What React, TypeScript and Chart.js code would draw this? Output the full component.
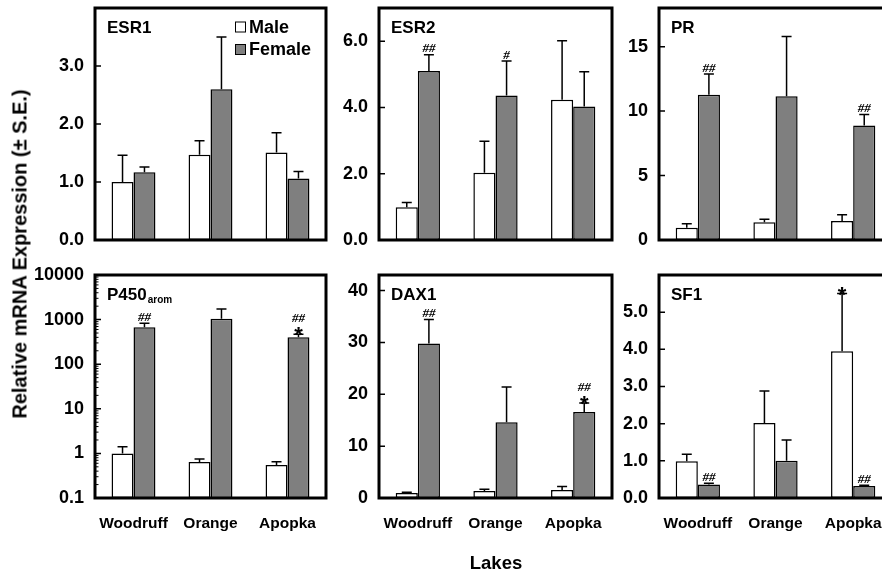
import React, { useEffect, useRef } from 'react';
import { Chart, registerables } from 'chart.js';

Chart.register(...registerables);

const FONT = '"Liberation Sans", Arial, Helvetica, sans-serif';
Chart.defaults.font.family = FONT;

// ---------- data ----------
const lakes = ['Woodruff', 'Orange', 'Apopka'];

const esr1Male = [1.0, 1.47, 1.51];
const esr1MaleSE = [0.46, 0.24, 0.34];
const esr1Female = [1.17, 2.6, 1.06];
const esr1FemaleSE = [0.09, 0.9, 0.12];
const esr1Ticks = [0, 1, 2, 3];

const esr2Male = [0.99, 2.03, 4.23];
const esr2MaleSE = [0.14, 0.95, 1.78];
const esr2Female = [5.1, 4.36, 4.03];
const esr2FemaleSE = [0.49, 1.04, 1.05];
const esr2FemaleHash = ['##', '#', ''];
const esr2Ticks = [0, 2, 4, 6];

const prMale = [0.96, 1.38, 1.48];
const prMaleSE = [0.31, 0.23, 0.47];
const prFemale = [11.27, 11.16, 8.88];
const prFemaleSE = [1.6, 4.62, 0.85];
const prFemaleHash = ['##', '', '##'];
const prTicks = [0, 5, 10, 15];

const p450Male = [1.0, 0.64, 0.55];
const p450MaleSE = [0.41, 0.105, 0.1];
const p450Female = [677, 1040, 400];
const p450FemaleSE = [153, 680, 70];
const p450FemaleHash = ['##', '', '##'];
const p450FemaleStar = ['', '', '*'];
const p450Ticks = [0.1, 1, 10, 100, 1000, 10000];

const dax1Male = [0.95, 1.36, 1.55];
const dax1MaleSE = [0.15, 0.34, 0.65];
const dax1Female = [29.8, 14.6, 16.6];
const dax1FemaleSE = [4.6, 6.8, 1.7];
const dax1FemaleHash = ['##', '', '##'];
const dax1FemaleStar = ['', '', '*'];
const dax1Ticks = [0, 10, 20, 30, 40];

const sf1Male = [0.99, 2.02, 3.95];
const sf1MaleSE = [0.19, 0.86, 1.55];
const sf1MaleStar = ['', '', '*'];
const sf1Female = [0.36, 1.0, 0.32];
const sf1FemaleSE = [0.04, 0.56, 0.02];
const sf1FemaleHash = ['##', '', '##'];
const sf1Ticks = [0, 1, 2, 3, 4, 5];

// ---------- layout ----------
const COLS = [
  [95, 326],
  [379, 612],
  [659, 892],
];
const ROWS = [
  [8, 240],
  [275, 498],
];
const Y_W = 70;
const PAD_R = 10;
const PAD_T = 25;
const CANVAS_BOTTOM = [260, 545];

type PanelCfg = {
  title: string;
  sub?: string;
  row: number;
  col: number;
  male: number[];
  maleSE: number[];
  female: number[];
  femaleSE: number[];
  maleHash?: string[];
  maleStar?: string[];
  femaleHash?: string[];
  femaleStar?: string[];
  ticks: number[];
  min: number;
  max: number;
  log?: boolean;
  decimals: number;
  legend?: boolean;
};

const panels: PanelCfg[] = [
  { title: 'ESR1', row: 0, col: 0, male: esr1Male, maleSE: esr1MaleSE, female: esr1Female, femaleSE: esr1FemaleSE, ticks: esr1Ticks, min: 0, max: 4, decimals: 1, legend: true },
  { title: 'ESR2', row: 0, col: 1, male: esr2Male, maleSE: esr2MaleSE, female: esr2Female, femaleSE: esr2FemaleSE, femaleHash: esr2FemaleHash, ticks: esr2Ticks, min: 0, max: 7, decimals: 1 },
  { title: 'PR', row: 0, col: 2, male: prMale, maleSE: prMaleSE, female: prFemale, femaleSE: prFemaleSE, femaleHash: prFemaleHash, ticks: prTicks, min: 0, max: 18, decimals: 0 },
  { title: 'P450', sub: 'arom', row: 1, col: 0, male: p450Male, maleSE: p450MaleSE, female: p450Female, femaleSE: p450FemaleSE, femaleHash: p450FemaleHash, femaleStar: p450FemaleStar, ticks: p450Ticks, min: 0.1, max: 10000, log: true, decimals: -1 },
  { title: 'DAX1', row: 1, col: 1, male: dax1Male, maleSE: dax1MaleSE, female: dax1Female, femaleSE: dax1FemaleSE, femaleHash: dax1FemaleHash, femaleStar: dax1FemaleStar, ticks: dax1Ticks, min: 0, max: 43, decimals: 0 },
  { title: 'SF1', row: 1, col: 2, male: sf1Male, maleSE: sf1MaleSE, maleStar: sf1MaleStar, female: sf1Female, femaleSE: sf1FemaleSE, femaleHash: sf1FemaleHash, ticks: sf1Ticks, min: 0, max: 6, decimals: 1 },
];

const GRAY = '#7f7f7f';

function makePlugin(cfg: PanelCfg) {
  return {
    id: 'panelDecor_' + cfg.title,
    afterDatasetsDraw(chart: any) {
      const ctx: CanvasRenderingContext2D = chart.ctx;
      const y = chart.scales.y;
      const sets = [
        { vals: cfg.male, se: cfg.maleSE, hash: cfg.maleHash, star: cfg.maleStar },
        { vals: cfg.female, se: cfg.femaleSE, hash: cfg.femaleHash, star: cfg.femaleStar },
      ];
      ctx.save();
      sets.forEach((s, d) => {
        const meta = chart.getDatasetMeta(d);
        meta.data.forEach((bar: any, i: number) => {
          const x = bar.x;
          const cap = y.getPixelForValue(s.vals[i] + s.se[i]);
          ctx.strokeStyle = '#000';
          ctx.lineWidth = 1.5;
          ctx.beginPath();
          ctx.moveTo(x, bar.y);
          ctx.lineTo(x, cap);
          ctx.moveTo(x - 5, cap);
          ctx.lineTo(x + 5, cap);
          ctx.stroke();
          ctx.fillStyle = '#000';
          ctx.textAlign = 'center';
          ctx.textBaseline = 'alphabetic';
          let hashCenter = cap - 7;
          if (s.star && s.star[i]) {
            ctx.font = 'bold 22px ' + FONT;
            ctx.fillText(s.star[i], x, cap + 8);
            hashCenter = cap - 17;
          }
          if (s.hash && s.hash[i]) {
            ctx.font = 'italic bold 13px "Liberation Serif", "Times New Roman", serif';
            ctx.fillText(s.hash[i], x, hashCenter + 4.5);
          }
        });
      });
      ctx.restore();
    },
    afterDraw(chart: any) {
      const ctx: CanvasRenderingContext2D = chart.ctx;
      const ca = chart.chartArea;
      const y = chart.scales.y;
      ctx.save();
      ctx.strokeStyle = '#000';
      // inward ticks
      ctx.lineWidth = 1.5;
      ctx.beginPath();
      cfg.ticks.forEach((v) => {
        const py = y.getPixelForValue(v);
        ctx.moveTo(ca.left, py);
        ctx.lineTo(ca.left + 6, py);
      });
      ctx.stroke();
      if (cfg.log) {
        ctx.lineWidth = 1;
        ctx.beginPath();
        for (let e = -1; e < 4; e++) {
          for (let k = 2; k <= 9; k++) {
            const py = y.getPixelForValue(k * Math.pow(10, e));
            ctx.moveTo(ca.left, py);
            ctx.lineTo(ca.left + 3.5, py);
          }
        }
        ctx.stroke();
      }
      // frame
      ctx.lineWidth = 3;
      ctx.strokeRect(ca.left, ca.top, ca.right - ca.left, ca.bottom - ca.top);
      // title
      ctx.fillStyle = '#000';
      ctx.textAlign = 'left';
      ctx.textBaseline = 'middle';
      ctx.font = 'bold 17px ' + FONT;
      const tx = ca.left + 12;
      const ty = ca.top + 20;
      ctx.fillText(cfg.title, tx, ty);
      if (cfg.sub) {
        const w = ctx.measureText(cfg.title).width;
        ctx.font = 'bold 10px ' + FONT;
        ctx.fillText(cfg.sub, tx + w + 1, ty + 5);
      }
      // legend
      if (cfg.legend) {
        const lx = ca.left + 140;
        const rows = [
          { label: 'Male', fill: '#ffffff', cy: ca.top + 19 },
          { label: 'Female', fill: GRAY, cy: ca.top + 41.5 },
        ];
        rows.forEach((r) => {
          ctx.fillStyle = r.fill;
          ctx.fillRect(lx, r.cy - 5.5, 11, 11);
          ctx.lineWidth = 1;
          ctx.strokeStyle = '#000';
          ctx.strokeRect(lx + 0.5, r.cy - 5.5 + 0.5, 10, 10);
          ctx.fillStyle = '#000';
          ctx.font = 'bold 18px ' + FONT;
          ctx.textBaseline = 'middle';
          ctx.fillText(r.label, lx + 14, r.cy + 1);
        });
      }
      ctx.restore();
    },
  };
}

function fmt(cfg: PanelCfg, v: number): string {
  if (cfg.log) return String(v);
  return v.toFixed(cfg.decimals);
}

function Panel({ cfg }: { cfg: PanelCfg }) {
  const ref = useRef<HTMLCanvasElement | null>(null);
  const [bl, br] = COLS[cfg.col];
  const [bt, bb] = ROWS[cfg.row];
  const left = bl - Y_W;
  const top = bt - PAD_T;
  const width = br - bl + Y_W + PAD_R;
  const height = CANVAS_BOTTOM[cfg.row] - top;
  const xH = CANVAS_BOTTOM[cfg.row] - bb;

  useEffect(() => {
    if (!ref.current) return;
    const chart = new Chart(ref.current, {
      type: 'bar',
      data: {
        labels: lakes,
        datasets: [
          { label: 'Male', data: cfg.male, backgroundColor: '#ffffff', borderColor: '#000', borderWidth: 1.5, borderSkipped: false, categoryPercentage: 0.57, barPercentage: 1 },
          { label: 'Female', data: cfg.female, backgroundColor: GRAY, borderColor: '#000', borderWidth: 1.5, borderSkipped: false, categoryPercentage: 0.57, barPercentage: 1 },
        ],
      },
      options: {
        animation: false,
        responsive: false,
        maintainAspectRatio: false,
        layout: { padding: { top: PAD_T, right: PAD_R, left: 0, bottom: 0 } },
        plugins: { legend: { display: false }, tooltip: { enabled: false } },
        scales: {
          x: {
            type: 'category',
            offset: true,
            grid: { display: false },
            border: { display: false },
            ticks: {
              display: cfg.row === 1,
              color: '#000',
              font: { size: 15.5, weight: 'bold', family: FONT },
              padding: 8,
              maxRotation: 0,
              minRotation: 0,
              autoSkip: false,
            },
            afterFit: (s: any) => {
              s.height = xH;
            },
          },
          y: {
            type: cfg.log ? 'logarithmic' : 'linear',
            min: cfg.min,
            max: cfg.max,
            grid: { display: false },
            border: { display: false },
            ticks: {
              color: '#000',
              font: { size: 18, weight: 'bold', family: FONT },
              padding: 3,
              callback: (v: any) => fmt(cfg, Number(v)),
            },
            afterBuildTicks: (s: any) => {
              s.ticks = cfg.ticks.map((v) => ({ value: v }));
            },
            afterFit: (s: any) => {
              s.width = Y_W;
            },
          },
        },
      } as any,
      plugins: [makePlugin(cfg)],
    });
    return () => chart.destroy();
  }, []);

  return (
    <canvas
      ref={ref}
      width={width}
      height={height}
      style={{ position: 'absolute', left, top, width, height }}
    />
  );
}

export default function App() {
  return (
    <div
      style={{
        position: 'absolute',
        left: 0,
        top: 0,
        width: 882,
        height: 575,
        overflow: 'hidden',
        background: '#fff',
        fontFamily: FONT,
      }}
    >
      {panels.map((p) => (
        <Panel key={p.title} cfg={p} />
      ))}
      <div
        style={{
          position: 'absolute',
          left: 20,
          top: 254,
          transform: 'translate(-50%, -50%) rotate(-90deg)',
          whiteSpace: 'nowrap',
          fontWeight: 'bold',
          fontSize: 20,
          color: '#000',
        }}
      >
        Relative mRNA Expression (± S.E.)
      </div>
      <div
        style={{
          position: 'absolute',
          left: 496,
          top: 563,
          transform: 'translate(-50%, -50%)',
          whiteSpace: 'nowrap',
          fontWeight: 'bold',
          fontSize: 18.5,
          color: '#000',
        }}
      >
        Lakes
      </div>
    </div>
  );
}
